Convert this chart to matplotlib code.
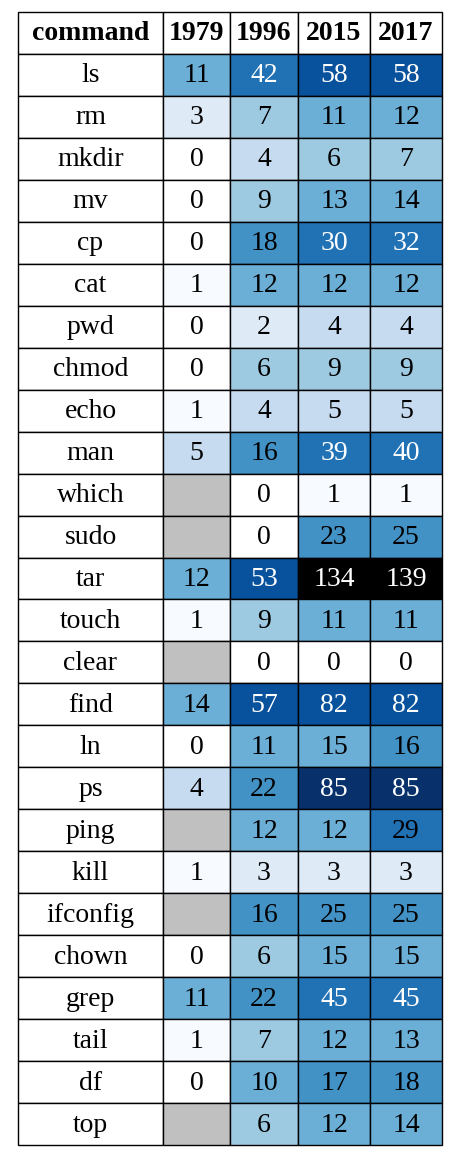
import numpy as np
import matplotlib.pyplot as plt
from matplotlib.colors import ListedColormap, BoundaryNorm
from matplotlib.patches import Rectangle

commands = ["ls", "rm", "mkdir", "mv", "cp", "cat", "pwd", "chmod", "echo", "man",
            "which", "sudo", "tar", "touch", "clear", "find", "ln", "ps", "ping", "kill",
            "ifconfig", "chown", "grep", "tail", "df", "top"]
years = ["1979", "1996", "2015", "2017"]
nan = np.nan
v1979 = [11, 3, 0, 0, 0, 1, 0, 0, 1, 5, nan, nan, 12, 1, nan, 14, 0, 4, nan, 1, nan, 0, 11, 1, 0, nan]
v1996 = [42, 7, 4, 9, 18, 12, 2, 6, 4, 16, 0, 0, 53, 9, 0, 57, 11, 22, 12, 3, 16, 6, 22, 7, 10, 6]
v2015 = [58, 11, 6, 13, 30, 12, 4, 9, 5, 39, 1, 23, 134, 11, 0, 82, 15, 85, 12, 3, 25, 15, 45, 12, 17, 12]
v2017 = [58, 12, 7, 14, 32, 12, 4, 9, 5, 40, 1, 25, 139, 11, 0, 82, 16, 85, 29, 3, 25, 15, 45, 13, 18, 14]

bounds = [0, 1, 2, 4, 6, 10, 16, 26, 50, 84, 100, 1000]
colors = ["#ffffff", "#f7fbff", "#deebf7", "#c6dbef", "#9ecae1", "#6baed6",
          "#4292c6", "#2171b5", "#08519c", "#08306b", "#000000"]
cmap = ListedColormap(colors)
norm = BoundaryNorm(bounds, cmap.N)

data = np.array([v1979, v1996, v2015, v2017]).T

fig = plt.figure(figsize=(4.54, 11.56), dpi=100)
ax = fig.add_axes([0, 0, 1, 1])
ax.set_xlim(0, 454)
ax.set_ylim(1156, 0)
ax.axis("off")

font = "Liberation Serif"
col_x = [18, 163, 230, 298, 370, 442]
top, bottom = 12, 1145
nrows = len(commands) + 1
rh = (bottom - top) / nrows

def cell(c, r, face, text, tcolor="black", bold=False):
    x0, x1 = col_x[c], col_x[c + 1]
    y0 = top + r * rh
    ax.add_patch(Rectangle((x0, y0), x1 - x0, rh, facecolor=face, edgecolor="black", lw=1))
    ax.text((x0 + x1) / 2, y0 + rh / 2 + 1, text, ha="center", va="center", fontsize=20,
            family=font, color=tcolor, fontweight="bold" if bold else "normal")

cell(0, 0, "white", "command", bold=True)
for j, y in enumerate(years):
    cell(j + 1, 0, "white", y, bold=True)

for i, cmd in enumerate(commands):
    cell(0, i + 1, "white", cmd)
    for j in range(len(years)):
        v = data[i, j]
        if np.isnan(v):
            cell(j + 1, i + 1, "#c0c0c0", "")
        else:
            cell(j + 1, i + 1, cmap(norm(v)), str(int(v)),
                 tcolor="white" if v >= 30 else "black")

fig.savefig("out.png", dpi=100)
